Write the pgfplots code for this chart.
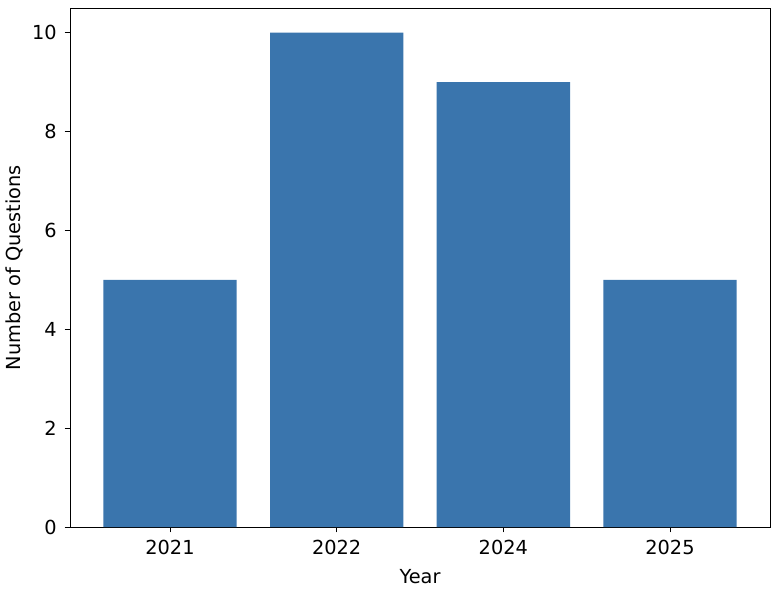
\documentclass[border=0pt]{standalone}
\usepackage{fontspec}
\setmainfont{DejaVu Sans}
\usepackage{pgfplots}
\pgfplotsset{compat=1.18}
\definecolor{barblue}{HTML}{3A75AD}

\begin{document}
\fontsize{14.5pt}{17pt}\selectfont
\begin{tikzpicture}
\path[use as bounding box] (-52.5pt,-50.25pt) rectangle (531pt,395.25pt);
\begin{axis}[
  scale only axis,
  width=525pt, height=389.25pt,
  xmin=-0.6, xmax=3.6,
  ymin=0, ymax=10.5,
  xtick={0,1,2,3},
  xticklabels={2021,2022,2024,2025},
  ytick={0,2,4,6,8,10},
  tick align=outside,
  tick pos=left,
  major tick length=4pt,
  tick style={black, line width=0.7pt},
  axis line style={line width=0.7pt},
  /pgf/number format/assume math mode=true,
  ticklabel style={font=\fontsize{14.5pt}{17pt}\selectfont},
  xticklabel style={yshift=-1pt},
  yticklabel style={xshift=-1pt},
  xlabel={Year},
  ylabel={Number of Questions},
  xlabel style={font=\fontsize{14.5pt}{17pt}\selectfont, at={(axis description cs:0.5,0)}, anchor=center, yshift=-37.5pt},
  ylabel style={font=\fontsize{14.5pt}{17pt}\selectfont, at={(axis description cs:0,0.5)}, anchor=center, yshift=42pt},
]
\addplot[ybar, bar width=0.8, bar shift=0pt, fill=barblue, draw=none]
  coordinates {(0,5) (1,10) (2,9) (3,5)};
\end{axis}
\end{tikzpicture}
\end{document}
